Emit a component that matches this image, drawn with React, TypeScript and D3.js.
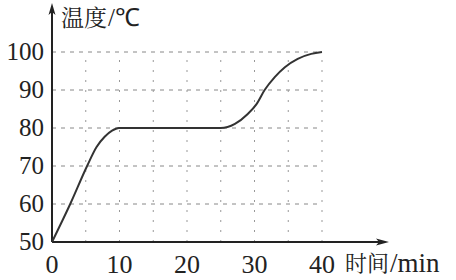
import React from "react";
import * as d3 from "d3";

const timeMin = [0, 2.7, 5.2, 6.6, 7.8, 8.9, 9.9, 15, 20, 25, 27.1, 29.0, 30.3, 31.5, 33.0, 34.5, 36.4, 38.4, 40];
const tempC = [50, 60, 70, 75, 77.7, 79.3, 80, 80, 80, 80, 81.1, 83.7, 86.3, 90, 93.4, 96.0, 98.2, 99.5, 100];
const xTicks = [0, 10, 20, 30, 40];
const yTicks = [50, 60, 70, 80, 90, 100];
const xGrid = [5, 10, 15, 20, 25, 30, 35, 40];
const yGrid = [60, 70, 80, 90, 100];
const yTitleCJK = "温度";
const yTitleUnit = "/℃";
const xTitleCJK = "时间";
const xTitleUnit = "/min";

const W = 456;
const H = 280;

export default function App() {
  const x = d3.scaleLinear().domain([0, 40]).range([52, 322]);
  const y = d3.scaleLinear().domain([50, 100]).range([242, 52]);
  const pts: [number, number][] = timeMin.map((t, i) => [t, tempC[i]]);
  const line = d3
    .line<[number, number]>()
    .x((d) => x(d[0]))
    .y((d) => y(d[1]))
    .curve(d3.curveMonotoneX);
  const x0 = x(0);
  const y0 = y(50);
  const axisColor = "#222";
  return (
    <svg
      width={W}
      height={H}
      fontFamily="Liberation Serif"
      style={{ position: "absolute", left: 0, top: 0, background: "#fff" }}
    >
      <style>{`.sf{font-family:"Liberation Serif";} .cj{font-family:"Noto Serif CJK SC";}`}</style>
      <rect x={0} y={0} width={W} height={H} fill="#fff" />
      {yGrid.map((v) => (
        <line
          key={"h" + v}
          x1={x0}
          x2={x(40)}
          y1={y(v)}
          y2={y(v)}
          stroke="#888"
          strokeWidth={1}
          strokeDasharray="4 5"
        />
      ))}
      {xGrid.map((v) => (
        <line
          key={"v" + v}
          x1={x(v)}
          x2={x(v)}
          y1={y0}
          y2={y(100)}
          stroke="#999"
          strokeWidth={1}
          strokeDasharray="2 8"
        />
      ))}
      <line x1={x0} x2={x0} y1={y0} y2={8} stroke={axisColor} strokeWidth={2} />
      <path d={`M${x0},3 L${x0 - 3.5},15 L${x0},12 L${x0 + 3.5},15 Z`} fill={axisColor} />
      <line x1={x0} x2={383} y1={y0} y2={y0} stroke={axisColor} strokeWidth={2} />
      <path d={`M389,${y0} L376,${y0 - 3.5} L379,${y0} L376,${y0 + 3.5} Z`} fill={axisColor} />
      <path d={line(pts) || ""} fill="none" stroke="#333" strokeWidth={2} />
      {yTicks.map((v) => (
        <text
          key={"yt" + v}
          className="sf"
          x={44}
          y={y(v) + 8}
          textAnchor="end"
          fontFamily="Liberation Serif"
          fontSize={25}
          fill="#222"
        >
          {String(v)}
        </text>
      ))}
      {xTicks.map((v) => (
        <text
          key={"xt" + v}
          className="sf"
          x={x(v)}
          y={273}
          textAnchor="middle"
          fontFamily="Liberation Serif"
          fontSize={26}
          fill="#222"
        >
          {String(v)}
        </text>
      ))}
      <text className="cj" x={61} y={26} fill="#222" fontSize={23} fontFamily="Noto Serif CJK SC">
        {yTitleCJK}
      </text>
      <text className="sf" x={108} y={26} fill="#222" fontSize={25} fontFamily="Liberation Serif">
        {yTitleUnit}
      </text>
      <text className="cj" x={345} y={271} fill="#222" fontSize={22} fontFamily="Noto Serif CJK SC">
        {xTitleCJK}
      </text>
      <text className="sf" x={390} y={272} fill="#222" fontSize={27} fontFamily="Liberation Serif">
        {xTitleUnit}
      </text>
    </svg>
  );
}
